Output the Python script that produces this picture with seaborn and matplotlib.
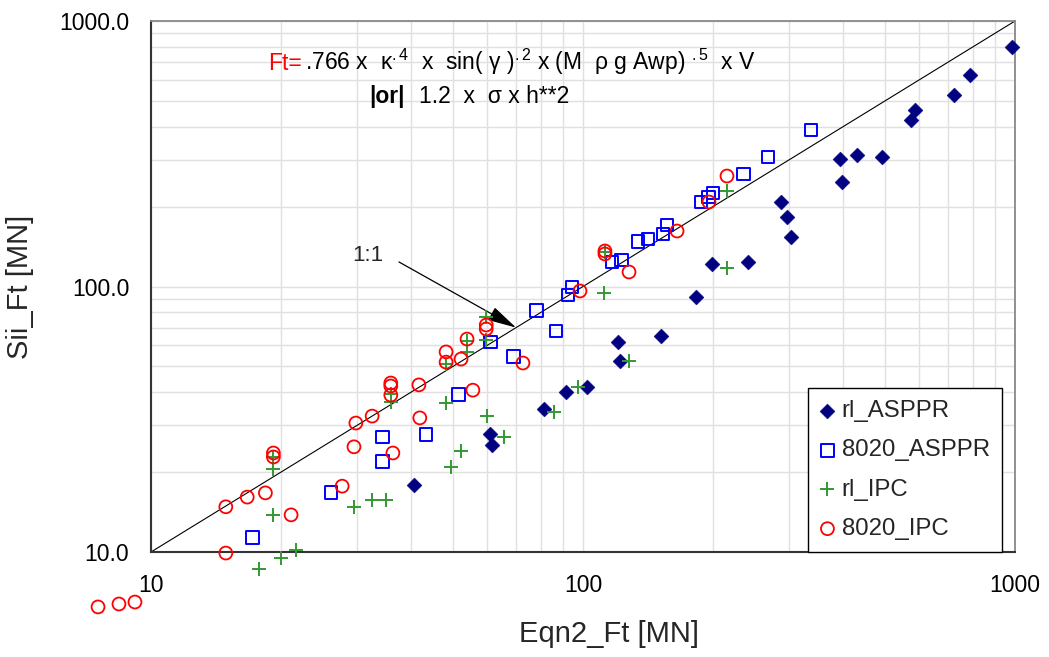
import matplotlib
matplotlib.use("Agg")
import matplotlib.pyplot as plt
import seaborn as sns
from matplotlib.ticker import FixedLocator, NullFormatter

sns.set_style("white")
plt.rcParams['font.family'] = ['Liberation Sans', 'DejaVu Sans']
plt.rcParams['mathtext.fontset'] = 'custom'
plt.rcParams['mathtext.rm'] = 'Liberation Sans'
plt.rcParams['mathtext.it'] = 'Liberation Sans:italic'
plt.rcParams['mathtext.bf'] = 'Liberation Sans:bold'

# ---- data: Eqn2 force estimate (x) vs Sii force (y), MN ----
rl_asppr_x = [40.6, 60.9, 61.6, 81.2, 91.3, 102, 120.5, 121.8, 151.6, 182.6, 198.9, 241,
              287, 297, 303, 393, 398, 431, 492, 574, 587, 722, 787, 984]
rl_asppr_y = [17.9, 27.8, 25.3, 34.6, 40.0, 41.8, 61.8, 52.4, 65.1, 91.3, 121.6, 123.7,
              208, 182.7, 153.6, 302, 247.5, 313, 307.5, 424, 462, 526, 626, 798]

a8020_asppr_x = [17.2, 26.1, 34.4, 34.4, 43.3, 51.6, 61.2, 68.9, 78.2, 86.6, 92.3, 94.3,
                 116.7, 122.5, 134.1, 141.4, 153.2, 156.5, 187.6, 194.8, 200, 234.7, 268.1, 337.2]
a8020_asppr_y = [11.3, 16.7, 27.1, 22.0, 27.6, 39.3, 61.8, 54.3, 80.9, 68.0, 92.9, 99.6,
                 123.7, 125.9, 147.2, 151.0, 157.6, 170.4, 208.1, 217.4, 225.1, 265.3, 307.5, 388.6]

rl_ipc_x = [17.8, 20.0, 21.7, 19.2, 19.2, 19.2, 29.5, 32.5, 35.0, 49.5, 52.2, 48.2, 35.9, 35.9,
            48.2, 53.9, 53.9, 59.7, 59.7, 60.0, 65.6, 85.7, 97.4, 127.8, 112.4, 111.8, 215.4, 215.4]
rl_ipc_y = [8.63, 9.49, 10.2, 13.8, 20.5, 22.8, 14.8, 15.7, 15.7, 20.9, 24.0, 36.4, 36.7, 39.3,
            51.0, 56.7, 62.3, 62.9, 76.8, 32.5, 27.1, 33.7, 41.8, 52.4, 134.9, 94.5, 229.0, 117.4]

a8020_ipc_x = [7.54, 8.43, 9.18, 14.9, 14.9, 16.7, 18.4, 21.1, 19.2, 19.2, 27.7, 29.5, 29.8,
               32.5, 36.3, 35.9, 35.9, 35.9, 41.7, 41.9, 48.2, 48.2, 52.2, 53.9, 55.6, 59.7,
               59.7, 72.6, 98.4, 112.4, 112.4, 127.8, 165.1, 195.7, 215.4]
a8020_ipc_y = [6.21, 6.37, 6.48, 9.91, 14.8, 16.1, 16.7, 13.8, 23.6, 22.8, 17.7, 24.9, 30.6,
               32.5, 23.6, 43.3, 42.2, 39.0, 42.6, 32.0, 56.7, 51.9, 53.3, 63.4, 40.7, 71.6,
               69.2, 51.5, 96.2, 136.1, 132.6, 113.4, 161.8, 208.1, 260.7]

one_to_one = [10, 1000]
x_ticks = [10, 100, 1000]
x_tick_labels = ["10", "100", "1000"]
y_ticks = [10, 100, 1000]
y_tick_labels = ["10.0", "100.0", "1000.0"]

W, H = 1049, 657
fig = plt.figure(figsize=(W / 100, H / 100), dpi=100)
ax = fig.add_axes([151 / W, 1 - 552 / H, 864 / W, 531 / H])
ax.set_xscale('log')
ax.set_yscale('log')
ax.set_xlim(10, 1000)
ax.set_ylim(10, 1000)

# 1:1 reference line
ax.plot(one_to_one, one_to_one, color='black', lw=0.8, zorder=2)

sns.scatterplot(x=rl_asppr_x, y=rl_asppr_y, marker='D', s=58, color='#000080',
                edgecolor='#000080', linewidth=0.3, label='rl_ASPPR', clip_on=False,
                zorder=3, ax=ax)
sns.scatterplot(x=a8020_asppr_x, y=a8020_asppr_y, marker='s', s=86, color='#0000FF',
                facecolor='none', edgecolor='#0000FF', linewidth=1.4, label='8020_ASPPR',
                clip_on=False, zorder=4, ax=ax)
sns.scatterplot(x=rl_ipc_x, y=rl_ipc_y, marker='+', s=115, color='#339933',
                linewidth=1.4, label='rl_IPC', clip_on=False, zorder=5, ax=ax)
sns.scatterplot(x=a8020_ipc_x, y=a8020_ipc_y, marker='o', s=86, color='#FF0000',
                facecolor='none', edgecolor='#FF0000', linewidth=1.3, label='8020_IPC',
                clip_on=False, zorder=6, ax=ax)

# ticks, grid, spines
ax.xaxis.set_major_locator(FixedLocator(x_ticks))
ax.yaxis.set_major_locator(FixedLocator(y_ticks))
ax.set_xticklabels(x_tick_labels)
ax.set_yticklabels(y_tick_labels)
ax.xaxis.set_minor_formatter(NullFormatter())
ax.yaxis.set_minor_formatter(NullFormatter())
ax.tick_params(which='major', direction='inout', length=11.5, width=1.2, color='#333333',
               labelsize=16.5, labelcolor='black', pad=10)
ax.tick_params(which='minor', length=0)
ax.grid(which='both', color='#e0e0e0', lw=1.0)
ax.set_axisbelow(True)
for side in ('left', 'bottom'):
    ax.spines[side].set_color('#333333')
    ax.spines[side].set_linewidth(1.5)
for side in ('top', 'right'):
    ax.spines[side].set_color('#888888')
    ax.spines[side].set_linewidth(1.3)

ax.set_xlabel('Eqn2_Ft [MN]', fontsize=21)
ax.set_ylabel('Sii_Ft [MN]', fontsize=21)
ax.xaxis.set_label_coords(0.53, -0.129)
ax.yaxis.set_label_coords(-0.135, 0.5)

# formula annotation
ax.text((268 - 151) / 864, (552 - 70) / 531, 'Ft=', color='red', fontsize=16.5,
        va='baseline', ha='left', transform=ax.transAxes)
ax.text((305 - 151) / 864, (552 - 70) / 531,
        r'.766 x  κ$^{.4}$  x  sin( γ )$^{.2}$ x (M  ρ g Awp) $^{.5}$  x V',
        color='black', fontsize=16.5, va='baseline', ha='left', transform=ax.transAxes)
ax.text((369 - 151) / 864, (552 - 103) / 531, '|or|', color='black', fontsize=16.5,
        fontweight='bold', va='baseline', ha='left', transform=ax.transAxes)
ax.text((419 - 151) / 864, (552 - 103) / 531, '1.2  x  σ x h**2', color='black',
        fontsize=16.5, va='baseline', ha='left', transform=ax.transAxes)

# 1:1 label with arrow to the reference line
ax.text(31.8, 131, '1:1', fontsize=16, ha='center', va='center')
ax.annotate('', xy=(70, 70), xytext=(37.5, 123.7),
            arrowprops=dict(arrowstyle='-|>,head_length=1.2,head_width=0.3',
                            mutation_scale=15, color='black', lw=0.9,
                            shrinkA=0, shrinkB=0))

leg = ax.legend(loc='lower right', bbox_to_anchor=((1002 - 151) / 864, 0), borderaxespad=0,
                frameon=True, fancybox=False, edgecolor='black', framealpha=1,
                fontsize=17.3, labelspacing=0.72, handletextpad=0.3, handlelength=0.6,
                borderpad=0.5)
leg.get_frame().set_linewidth(1.0)

fig.savefig('out.png', dpi=100)
